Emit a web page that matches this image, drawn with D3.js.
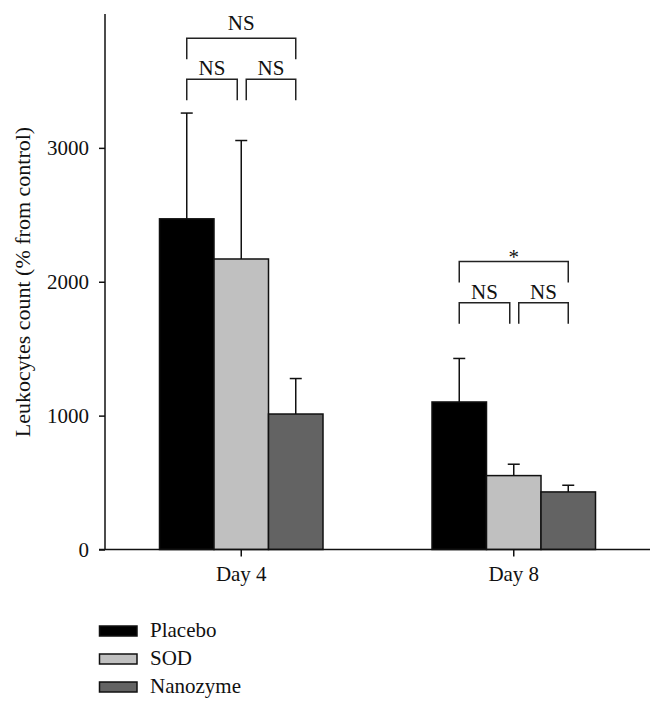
<!DOCTYPE html>
<html><head><meta charset="utf-8">
<script src="https://cdn.jsdelivr.net/npm/d3@7"></script>
<style>
body{margin:0;background:#fff}
svg{display:block}
</style>
</head><body>
<svg id="chart" width="664" height="711"></svg>
<script>
// ---- data ----
const days = ["Day 4", "Day 8"];
const seriesNames = ["Placebo", "SOD", "Nanozyme"];
const placeboMean = [2470, 1102];
const placeboErr  = [790, 325];
const sodMean     = [2170, 552];
const sodErr      = [885, 85];
const nanoMean    = [1012, 430];
const nanoErr     = [265, 50];
const yTicks = [0, 1000, 2000, 3000];
const yMax = 4000;
const yTitle = "Leukocytes count (% from control)";

// significance brackets
const sigDay   = ["Day 4", "Day 4", "Day 4", "Day 8", "Day 8", "Day 8"];
const sigFrom  = ["Placebo", "Placebo", "SOD", "Placebo", "Placebo", "SOD"];
const sigTo    = ["Nanozyme", "SOD", "Nanozyme", "Nanozyme", "SOD", "Nanozyme"];
const sigLevel = [3818, 3513, 3513, 2151, 1844, 1844];
const sigLabel = ["NS", "NS", "NS", "*", "NS", "NS"];

// ---- styles ----
const colors = {Placebo: "#000000", SOD: "#c0c0c0", Nanozyme: "#636363"};
const FONT = "'Liberation Serif', 'Times New Roman', serif";
const fontSize = 21;
const labelGap = [8, 4, 4, -2, 4, 4];
const legLen = 21;

function styleText(sel, size) {
  sel.style("font-family", FONT).style("font-size", (size || fontSize) + "px").style("fill", "#111");
  return sel;
}

const means = {Placebo: placeboMean, SOD: sodMean, Nanozyme: nanoMean};
const errs  = {Placebo: placeboErr,  SOD: sodErr,  Nanozyme: nanoErr};

const svg = d3.select("#chart");
const x0 = d3.scaleBand().domain(days).range([105, 650]).paddingInner(0.4).paddingOuter(0.2);
const x1 = d3.scaleBand().domain(seriesNames).range([0, x0.bandwidth()]);
const y = d3.scaleLinear().domain([0, yMax]).range([549.5, 14]);

const bars = [];
days.forEach((d, i) => seriesNames.forEach(s => bars.push({day: d, series: s, v: means[s][i], e: errs[s][i]})));

// error bars (behind bars)
const eb = svg.append("g").attr("stroke", "#111").attr("stroke-width", 1.5);
bars.forEach(b => {
  const cx = x0(b.day) + x1(b.series) + x1.bandwidth() / 2;
  eb.append("line").attr("x1", cx).attr("x2", cx).attr("y1", y(b.v)).attr("y2", y(b.v + b.e));
  eb.append("line").attr("x1", cx - 6).attr("x2", cx + 6).attr("y1", y(b.v + b.e)).attr("y2", y(b.v + b.e));
});

// bars
svg.append("g").selectAll("rect").data(bars).join("rect")
  .attr("x", b => x0(b.day) + x1(b.series))
  .attr("y", b => y(b.v))
  .attr("width", x1.bandwidth())
  .attr("height", b => y(0) - y(b.v))
  .attr("fill", b => colors[b.series])
  .attr("stroke", "#111").attr("stroke-width", 1.5);

// axes
const yAxis = svg.append("g").attr("transform", "translate(105,0)")
  .call(d3.axisLeft(y).tickValues(yTicks).tickSize(6).tickPadding(10).tickFormat(d3.format("d")));
yAxis.select(".domain").attr("d", `M0,${y(yMax)}V${y(0)}`).attr("stroke", "#111").attr("stroke-width", 1.5);
yAxis.selectAll(".tick line").attr("stroke", "#111").attr("stroke-width", 1.5);
styleText(yAxis.selectAll("text"));

const xAxis = svg.append("g").attr("transform", `translate(0,${y(0)})`)
  .call(d3.axisBottom(x0).tickSize(7).tickPadding(10));
xAxis.select(".domain").attr("d", `M99,0H650`).attr("stroke", "#111").attr("stroke-width", 1.5);
xAxis.selectAll(".tick line").attr("stroke", "#111").attr("stroke-width", 1.5);
styleText(xAxis.selectAll("text"));

// y title
styleText(svg.append("text")
  .attr("transform", `translate(30,282) rotate(-90)`)
  .attr("text-anchor", "middle").text(yTitle), 22);

// significance brackets
const sg = svg.append("g");
sigLabel.forEach((lab, i) => {
  const cFrom = x0(sigDay[i]) + x1(sigFrom[i]) + x1.bandwidth() / 2;
  const cTo = x0(sigDay[i]) + x1(sigTo[i]) + x1.bandwidth() / 2;
  const padL = sigFrom[i] === "SOD" ? 5 : 0;
  const padR = sigTo[i] === "SOD" ? -4 : 0;
  const xa = cFrom + padL, xb = cTo + padR, yl = y(sigLevel[i]);
  sg.append("path").attr("d", `M${xa},${yl + legLen}V${yl}H${xb}V${yl + legLen}`)
    .attr("fill", "none").attr("stroke", "#222").attr("stroke-width", 1.5);
  styleText(sg.append("text").attr("x", (xa + xb) / 2).attr("y", yl - labelGap[i])
    .attr("text-anchor", "middle").text(lab));
});

// legend
const lg = svg.append("g");
seriesNames.forEach((s, i) => {
  lg.append("rect").attr("x", 99.5).attr("y", 626 + i * 28).attr("width", 37.5).attr("height", 10)
    .attr("fill", colors[s]).attr("stroke", "#111").attr("stroke-width", 1.5);
  styleText(lg.append("text").attr("x", 150).attr("y", 637 + i * 28).text(s));
});
</script>
</body></html>
